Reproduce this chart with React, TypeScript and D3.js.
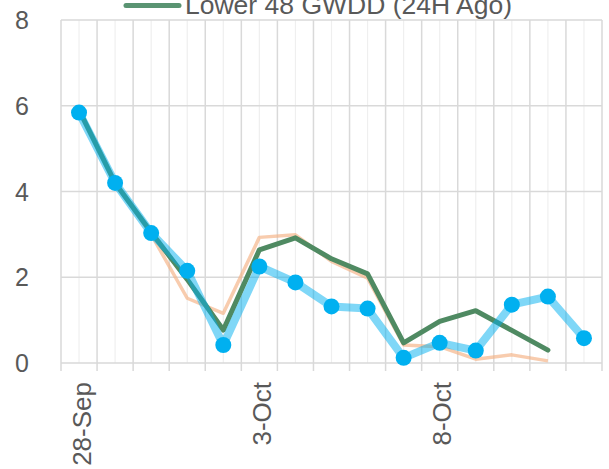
import React from 'react';
import * as d3 from 'd3';

// categories (daily)
const dates = ['28-Sep', '29-Sep', '30-Sep', '1-Oct', '2-Oct', '3-Oct', '4-Oct', '5-Oct', '6-Oct', '7-Oct', '8-Oct', '9-Oct', '10-Oct', '11-Oct', '12-Oct'];
const shownLabels = ['28-Sep', '3-Oct', '8-Oct'];
const yTicks = [0, 2, 4, 6, 8];

// series values
const latest = [5.84, 4.2, 3.03, 2.15, 0.42, 2.25, 1.88, 1.32, 1.27, 0.12, 0.47, 0.29, 1.36, 1.55, 0.58];
const ago24h = [5.9, 4.2, 3.05, 1.95, 0.77, 2.64, 2.92, 2.43, 2.08, 0.47, 0.97, 1.22, 0.76, 0.3, null];
const normal = [5.9, 4.2, 3.0, 1.51, 1.16, 2.93, 2.99, 2.37, 1.98, 0.42, 0.38, 0.09, 0.19, 0.05, null];

const legendLabel = 'Lower 48 GWDD (24H Ago)';

const width = 609;
const height = 469;
const margin = { top: 20, right: 7, bottom: 106, left: 61 };
const font = '"Liberation Sans", Arial, sans-serif';
const textColor = '#595959';

export default function App() {
  const x = d3.scaleBand<string>()
    .domain(dates)
    .range([margin.left, width - margin.right])
    .padding(0);
  const y = d3.scaleLinear()
    .domain([0, 8])
    .range([height - margin.bottom, margin.top]);

  const bw = x.bandwidth();
  const cx = (d: string) => (x(d) as number) + bw / 2;

  const line = d3.line<number | null>()
    .defined(v => v != null)
    .x((_, i) => cx(dates[i]))
    .y(v => y(v as number));

  const boundaries = dates.map(d => x(d) as number).concat([width - margin.right]);
  const y0 = y(0);

  return (
    <svg width={width} height={height} style={{ position: 'absolute', left: 0, top: 0 }}>
      <rect width={width} height={height} fill="#fff" />
      {/* minor gridlines at category centres */}
      {dates.map(d => (
        <line key={'m' + d} x1={cx(d)} x2={cx(d)} y1={y(8)} y2={y0} stroke="#efefef" strokeWidth={1.2} />
      ))}
      {/* major vertical gridlines and ticks */}
      {boundaries.map((b, i) => (
        <line key={'b' + i} x1={b} x2={b} y1={y(8)} y2={y0 + 8} stroke="#d9d9d9" strokeWidth={1.5} />
      ))}
      {/* horizontal gridlines */}
      {yTicks.map(t => (
        <line key={'h' + t} x1={margin.left} x2={width - margin.right} y1={y(t)} y2={y(t)} stroke="#d9d9d9" strokeWidth={1.5} />
      ))}
      {yTicks.map(t => (
        <text key={'yl' + t} x={29} y={y(t)} dy="0.36em" textAnchor="end" fontFamily={font} fontSize={25} fill={textColor}>{t}</text>
      ))}
      {shownLabels.map(d => (
        <text key={'xl' + d} transform={`translate(${cx(d) + 11.7},382) rotate(-90)`} textAnchor="end"
          fontFamily={font} fontSize={26} fill={textColor}>{d}</text>
      ))}

      <path d={line(normal) || ''} fill="none" stroke="#f4b183" strokeOpacity={0.65} strokeWidth={3.5} strokeLinejoin="round" />
      <path d={line(ago24h) || ''} fill="none" stroke="#4f8a62" strokeWidth={5} strokeLinejoin="round" strokeLinecap="round" />
      <path d={line(latest) || ''} fill="none" stroke="#00b0f0" strokeOpacity={0.5} strokeWidth={8} strokeLinejoin="round" />
      {latest.map((v, i) => (
        <circle key={'c' + i} cx={cx(dates[i])} cy={y(v)} r={8} fill="#00b0f0" />
      ))}

      {/* legend (clipped at the top) */}
      <line x1={126} x2={179} y1={5.5} y2={5.5} stroke="#5a9472" strokeWidth={5} strokeLinecap="round" />
      <text x={185} y={14} fontFamily={font} fontSize={26.5} fill={textColor}>{legendLabel}</text>
    </svg>
  );
}
